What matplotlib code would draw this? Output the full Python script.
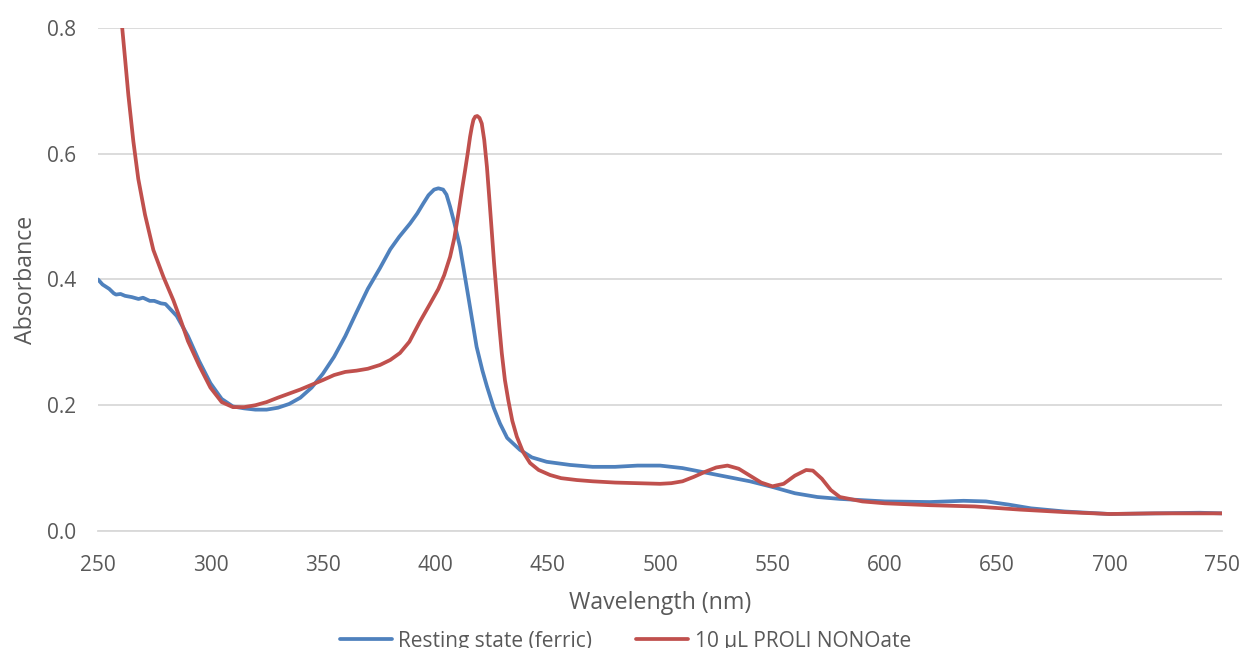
import matplotlib
matplotlib.use("Agg")
import matplotlib.pyplot as plt

# Resting state (ferric) spectrum
resting_nm = [250, 252, 255, 257, 258, 260, 262, 265, 268, 270, 273, 275, 278, 280,
              285, 290, 295, 300, 305, 310, 315, 320, 325, 330, 335, 340, 345, 350,
              355, 360, 365, 370, 375.4, 380, 384, 388.8, 392, 394.7, 397, 399.5, 401.4,
              403.5, 405, 406.6, 408.5, 411.0, 414.7, 418.4, 421, 423.0, 426, 428.8,
              432, 437.7, 443, 449.6, 460, 470, 480, 490, 500, 510, 520, 530, 540, 550,
              560, 570, 580, 590, 600, 620, 635, 645, 655, 665, 680, 700, 720, 740, 750]
resting_abs = [0.400, 0.392, 0.385, 0.378, 0.376, 0.377, 0.374, 0.372, 0.369, 0.371, 0.366, 0.366, 0.362, 0.361,
               0.342, 0.310, 0.270, 0.235, 0.210, 0.198, 0.195, 0.193, 0.193, 0.196, 0.202, 0.212, 0.228, 0.250,
               0.277, 0.310, 0.348, 0.385, 0.418, 0.448, 0.468, 0.489, 0.505, 0.521, 0.534, 0.543, 0.545,
               0.543, 0.535, 0.516, 0.490, 0.452, 0.373, 0.293, 0.255, 0.230, 0.196, 0.171,
               0.148, 0.129, 0.117, 0.110, 0.105, 0.102, 0.102, 0.104, 0.104, 0.100, 0.093, 0.086, 0.079, 0.070,
               0.060, 0.054, 0.051, 0.049, 0.047, 0.046, 0.048, 0.047, 0.042, 0.036, 0.031, 0.027, 0.028, 0.029, 0.028]

# After 10 uL PROLI NONOate
proli_nm = [259.5, 260.7, 262.0, 263.5, 265.7, 267.9, 270.9, 274.6, 279.1, 283.5, 287, 290, 295,
            300, 305, 310, 315, 320, 325, 330, 340, 350, 355, 360, 365, 370, 375.4, 380, 384.3,
            388.5, 393.2, 397.5, 401.4, 404, 406.6, 408.5, 410.3, 412, 413.3, 414.5, 415.5, 416.3,
            417.0, 417.8, 418.7, 419.7, 420.7, 421.8, 423.0, 424.0, 425.1, 426.2, 427.4, 428.5,
            429.6, 431, 432.5, 434.3, 436.3, 439, 442.2, 446, 451.1, 456, 463.0, 470, 480, 490,
            500, 505, 510, 515, 520, 525, 530, 535, 540, 545, 550, 555, 560, 565, 568, 572, 576,
            580, 590, 600, 620, 640, 660, 680, 700, 720, 750]
proli_abs = [0.830, 0.802, 0.752, 0.693, 0.620, 0.560, 0.503, 0.447, 0.404, 0.367, 0.333, 0.302, 0.263,
             0.228, 0.205, 0.197, 0.197, 0.200, 0.205, 0.212, 0.225, 0.240, 0.248, 0.253, 0.255, 0.258, 0.264, 0.272, 0.283,
             0.301, 0.333, 0.360, 0.385, 0.407, 0.436, 0.466, 0.505, 0.545, 0.574, 0.602, 0.627, 0.643,
             0.654, 0.659, 0.660, 0.657, 0.648, 0.622, 0.579, 0.532, 0.479, 0.425, 0.373, 0.326,
             0.283, 0.240, 0.208, 0.175, 0.150, 0.126, 0.108, 0.097, 0.089, 0.084, 0.081, 0.079, 0.077, 0.076,
             0.075, 0.076, 0.079, 0.086, 0.094, 0.101, 0.104, 0.099, 0.088, 0.077, 0.071, 0.075,
             0.088, 0.097, 0.096, 0.083, 0.065, 0.054, 0.047, 0.044, 0.041, 0.039, 0.034, 0.030, 0.027, 0.028, 0.028]

x_ticks = [250, 300, 350, 400, 450, 500, 550, 600, 650, 700, 750]
y_ticks = [0.0, 0.2, 0.4, 0.6, 0.8]

plt.rcParams['font.family'] = ['Open Sans', 'DejaVu Sans']
text_color = '#595959'
tick_fs = 15
title_fs = 16.7

fig = plt.figure(figsize=(12.41, 6.48), dpi=100)
ax = fig.add_axes([0.079, 0.1806, 0.9057, 0.7762])

ax.plot(resting_nm, resting_abs, color='#4F81BD', lw=2.7, label='Resting state (ferric)',
        solid_joinstyle='round', solid_capstyle='round')
ax.plot(proli_nm, proli_abs, color='#C0504D', lw=2.7, label='10 µL PROLI NONOate',
        solid_joinstyle='round', solid_capstyle='round')

ax.set_xlim(250, 750)
ax.set_ylim(0, 0.8)
ax.set_xticks(x_ticks)
ax.set_yticks(y_ticks)
ax.set_yticklabels([f'{v:.1f}' for v in y_ticks])
ax.tick_params(axis='both', length=0, labelsize=tick_fs, colors=text_color)
ax.tick_params(axis='x', pad=17)
ax.tick_params(axis='y', pad=16)

ax.grid(axis='y', color='#D9D9D9', lw=1.3)
ax.set_axisbelow(True)
for side in ['top', 'right', 'left']:
    ax.spines[side].set_visible(False)
ax.spines['bottom'].set_color('#D9D9D9')
ax.spines['bottom'].set_linewidth(1.3)

ax.set_xlabel('Wavelength (nm)', fontsize=title_fs, color=text_color, labelpad=11)
ax.set_ylabel('Absorbance', fontsize=title_fs, color=text_color, labelpad=6)

leg = fig.legend(loc='center', bbox_to_anchor=(0.504, 1 - 641 / 648), ncol=2, frameon=False,
                 fontsize=tick_fs, handlelength=2.5, handletextpad=0.3, columnspacing=2.1)
for t in leg.get_texts():
    t.set_color(text_color)

fig.savefig('out.png', dpi=100)
